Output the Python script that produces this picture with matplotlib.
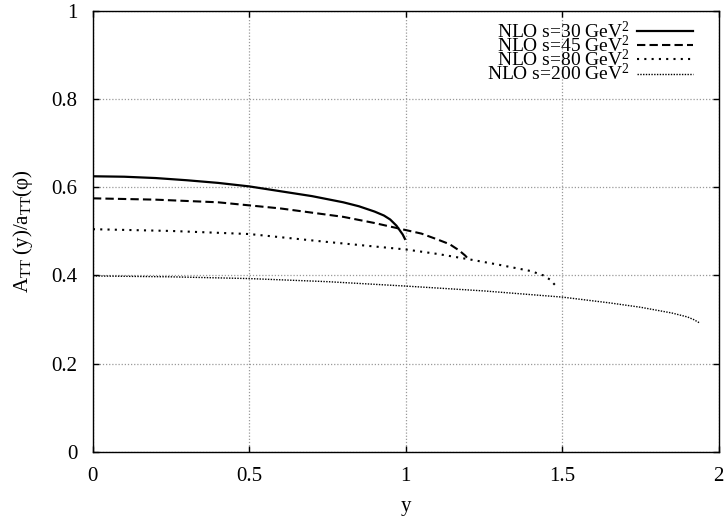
import matplotlib
matplotlib.use('Agg')
import matplotlib.pyplot as plt

y_30 = [0.0, 0.1, 0.2, 0.3, 0.4, 0.5, 0.6, 0.7, 0.8, 0.85, 0.9, 0.93, 0.95, 0.97, 0.98, 0.99, 0.997]
a_30 = [0.625, 0.624, 0.621, 0.616, 0.610, 0.602, 0.591, 0.580, 0.566, 0.557, 0.545, 0.536, 0.527, 0.513, 0.503, 0.493, 0.483]

y_45 = [0.0, 0.2, 0.4, 0.6, 0.8, 0.9, 1.0, 1.05, 1.1, 1.14, 1.17, 1.19, 1.2]
a_45 = [0.575, 0.572, 0.566, 0.552, 0.533, 0.519, 0.503, 0.495, 0.482, 0.471, 0.457, 0.445, 0.437]

y_80 = [0.0, 0.25, 0.5, 0.75, 1.0, 1.1, 1.2, 1.3, 1.4, 1.44, 1.46, 1.48]
a_80 = [0.505, 0.501, 0.494, 0.476, 0.459, 0.449, 0.437, 0.424, 0.410, 0.400, 0.391, 0.376]

y_200 = [0.0, 0.25, 0.5, 0.75, 1.0, 1.25, 1.5, 1.65, 1.75, 1.85, 1.9, 1.92, 1.94]
a_200 = [0.399, 0.397, 0.393, 0.386, 0.376, 0.365, 0.351, 0.338, 0.328, 0.315, 0.306, 0.300, 0.292]

labels = ['NLO s=30 GeV$^2$', 'NLO s=45 GeV$^2$', 'NLO s=80 GeV$^2$', 'NLO s=200 GeV$^2$']

plt.rcParams['font.family'] = ['Liberation Serif', 'DejaVu Serif']
plt.rcParams['mathtext.fontset'] = 'custom'
plt.rcParams['mathtext.rm'] = 'Liberation Serif'
plt.rcParams['mathtext.it'] = 'Liberation Serif:italic'
plt.rcParams['font.size'] = 15

fig = plt.figure(figsize=(7.26, 5.2), dpi=100)
ax = fig.add_axes([0.128, 0.131, 0.862, 0.848])

ax.plot(y_30, a_30, color='black', lw=1.6, ls='-', label=labels[0])
ax.plot(y_45, a_45, color='black', lw=1.5, ls=(0, (4, 2)), label=labels[1])
ax.plot(y_80, a_80, color='black', lw=1.5, ls=(0, (1, 2.5)), label=labels[2])
ax.plot(y_200, a_200, color='black', lw=1.0, ls=(0, (1, 1)), label=labels[3])

ax.set_xlim(0, 2)
ax.set_ylim(0, 1)
ax.set_xticks([0, 0.5, 1, 1.5, 2])
ax.set_xticklabels(['0', '0.5', '1', '1.5', '2'])
ax.set_yticks([0, 0.2, 0.4, 0.6, 0.8, 1])
ax.set_yticklabels(['0', '0.2', '0.4', '0.6', '0.8', '1'])
ax.tick_params(direction='in', length=4, width=1, top=True, right=True, pad=11)
ax.grid(True, color='#999999', ls=(0, (1, 1.5)), lw=0.9)
for sp in ax.spines.values():
    sp.set_linewidth(1)

ax.set_xlabel('y', labelpad=8)
ax.set_ylabel('A$_{\\mathrm{TT}}$ (y)/a$_{\\mathrm{TT}}$(φ)', labelpad=12)

leg = ax.legend(loc='upper right', frameon=False, markerfirst=False,
                handlelength=2.9, handletextpad=0.35, labelspacing=-0.36,
                borderaxespad=0.0, borderpad=0.5, fontsize=14,
                bbox_to_anchor=(0.975, 1.0))

fig.savefig('out.png', dpi=100)
